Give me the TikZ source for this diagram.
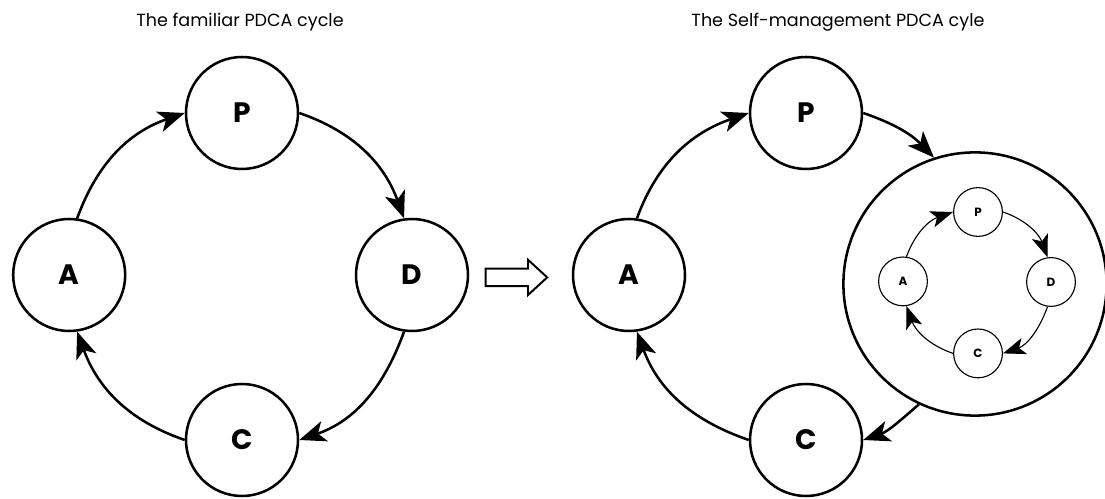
\documentclass[tikz,border=0pt]{standalone}
\usepackage{fontspec}
\setmainfont{Poppins}
\usetikzlibrary{arrows.meta}

\tikzset{
  stage/.style={circle, draw, line width=1.8pt, minimum size=2.8cm, inner sep=0pt,
    font=\fontsize{20}{20}\selectfont\bfseries},
  substage/.style={circle, draw, line width=0.8pt, minimum size=1.22cm, inner sep=0pt,
    font=\fontsize{8.5}{9}\selectfont\bfseries},
  flow/.style={line width=1.8pt, -{Stealth[length=19pt, width=15pt, inset=5pt]}},
  subflow/.style={line width=0.8pt, -{Stealth[length=16pt, width=12pt, inset=4pt]}},
  heading/.style={font=\fontsize{12.5}{15}\selectfont},
}

\begin{document}
\begin{tikzpicture}
    \useasboundingbox (0,0) rectangle (27.625,12.475);

    % Left: the familiar cycle
    \node[heading] (title1) at (6.0,11.925) {The familiar PDCA cycle};
    \node[stage] (P) at (6.05,9.65) {P};
    \node[stage] (D) at (10.3,5.6) {D};
    \node[stage] (C) at (6.05,1.475) {C};
    \node[stage] (A) at (1.73,5.6) {A};

    \draw[flow] (A.82) to[out=70, in=199] (P.west);
    \draw[flow] (P.east) to[out=-19, in=110] (D.98);
    \draw[flow] (D.262) to[out=250, in=19] (C.east);
    \draw[flow] (C.west) to[out=161, in=290] (A.278);

    % Hollow arrow in between
    \draw[line width=1.4pt, line join=miter] (12.14,5.32) -- (13.2,5.32) -- (13.2,5.1)
        -- (13.68,5.54) -- (13.2,5.98) -- (13.2,5.76) -- (12.14,5.76) -- cycle;

    % Right: the self-management cycle
    \node[heading] (title2) at (20.95,11.925) {The Self-management PDCA cyle};
    \node[stage] (P2) at (20.15,9.65) {P};
    \node[stage] (C2) at (20.15,1.475) {C};
    \node[stage] (A2) at (15.725,5.6) {A};
    \node[circle, draw, line width=1.8pt, minimum size=6.58cm] (D2) at (24.375,5.375) {};

    \draw[flow] (A2.82) to[out=70, in=199] (P2.west);
    \draw[flow] (P2.east) to[out=-19, in=134] (D2.108);
    \draw[flow] (D2.245) to[out=221, in=19] (C2.east);
    \draw[flow] (C2.west) to[out=161, in=290] (A2.278);

    % Small cycle inside D
    \node[substage] (p) at (24.45,7.175) {P};
    \node[substage] (d) at (26.275,5.425) {D};
    \node[substage] (c) at (24.45,3.64) {C};
    \node[substage] (a) at (22.575,5.44) {A};

    \draw[subflow] (a.82) to[out=70, in=199] (p.west);
    \draw[subflow] (p.east) to[out=-19, in=110] (d.98);
    \draw[subflow] (d.262) to[out=250, in=19] (c.east);
    \draw[subflow] (c.west) to[out=161, in=290] (a.278);
\end{tikzpicture}
\end{document}
